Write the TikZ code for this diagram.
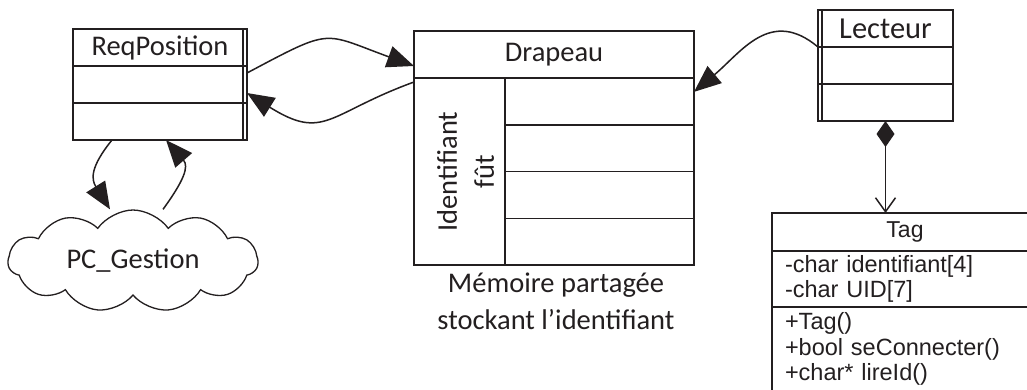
\documentclass[tikz,border=0pt]{standalone}
\usepackage{fontspec}
\setmainfont{Carlito}
\newfontfamily\arialfont{Liberation Sans}
\usepackage{tikz}
\usetikzlibrary{arrows.meta}
\usetikzlibrary{shapes}
\usetikzlibrary{positioning}
\definecolor{ink}{RGB}{35,31,32}

\begin{document}
\begin{tikzpicture}[x=1pt, y=-1pt, >={Triangle[length=27pt,width=22pt]}, line width=1.5pt, color=ink,
    compart/.style={draw, rectangle, inner sep=0pt, outer sep=0pt, font=\fontsize{28.5}{34}\selectfont},
    tagpart/.style={compart, minimum width=266pt, text width=240pt, inner xsep=13pt, align=left,
        font=\arialfont\fontsize{23.5}{25.5}\selectfont}]
        \useasboundingbox (0,0) rectangle (1027,389);
        \clip (0,0) rectangle (1027,389);

        % Class ReqPosition
        \node[compart, minimum width=174pt, minimum height=37pt] (reqtitle) at (160,47.5) {ReqPosition};
        \node[compart, minimum width=174pt, minimum height=37pt, below=0pt of reqtitle] (reqattr) {};
        \node[compart, minimum width=174pt, minimum height=37pt, below=0pt of reqattr] (reqmeth) {};
        \draw[line width=1.2pt] ([xshift=-4pt]reqtitle.north east) -- ([xshift=-4pt]reqmeth.south east);

        % Shared memory Drapeau
        \node[compart, minimum width=280pt, minimum height=47pt] (dtitle) at (554,54.5) {Drapeau};
        \node[compart, minimum width=91pt, minimum height=187pt, below right=0pt and 0pt of dtitle.south west] (idcol) {};
        \node[rotate=90, align=center, font=\fontsize{28.5}{37}\selectfont] (idtext) at ([xshift=6pt]idcol.center) {Identifiant\\fût};
        \node[compart, minimum width=189pt, minimum height=46.75pt, below right=0pt and 0pt of idcol.north east] (cell1) {};
        \node[compart, minimum width=189pt, minimum height=46.75pt, below=0pt of cell1] (cell2) {};
        \node[compart, minimum width=189pt, minimum height=46.75pt, below=0pt of cell2] (cell3) {};
        \node[compart, minimum width=189pt, minimum height=46.75pt, below=0pt of cell3] (cell4) {};
        \node[align=center, font=\fontsize{28.5}{37}\selectfont] (caption) at (556,301) {Mémoire partagée\\stockant l’identifiant};

        % Class Lecteur
        \node[compart, minimum width=135pt, minimum height=37pt, font=\fontsize{30.5}{34}\selectfont] (ltitle) at (885.5,28.5) {Lecteur};
        \node[compart, minimum width=135pt, minimum height=37pt, below=0pt of ltitle] (lattr) {};
        \node[compart, minimum width=135pt, minimum height=37pt, below=0pt of lattr] (lmeth) {};
        \draw[line width=1.2pt] ([xshift=4pt]ltitle.north west) -- ([xshift=4pt]lmeth.south west);

        % Class Tag
        \node[compart, minimum width=266pt, minimum height=38pt, font=\arialfont\fontsize{23}{26}\selectfont] (tagtitle) at (905,232) {Tag};
        \node[tagpart, minimum height=56pt, below=0pt of tagtitle] (tagattr) {-char identifiant[4]\\-char UID[7]};
        \node[tagpart, minimum height=84pt, below=0pt of tagattr] (tagmeth) {+Tag()\\+bool seConnecter()\\+char* lireId()};

        % Cloud
        \node[draw, cloud, cloud puffs=11, cloud puff arc=110, cloud ignores aspect, minimum width=250pt, minimum height=102pt,
            line width=1.3pt, font=\fontsize{28.5}{34}\selectfont] (pc) at (133,261) {PC\_Gestion};

        % Links
        \draw[->] ([yshift=-7pt]reqattr.north east) to[out=28, in=160, looseness=1.5] ([yshift=-11.5pt]dtitle.west);
        \draw[->] ([yshift=-4pt]idcol.north west) to[out=200, in=-32, looseness=1.4] ([yshift=-8.5pt]reqattr.east);
        \draw[->] (lattr.north west) to[out=140, in=40, looseness=1.2] ([yshift=9.5pt]cell1.east);
        \draw[->] ([xshift=-48pt]reqmeth.south) to[out=231, in=122, looseness=1.3] ([xshift=-23pt]pc.north);
        \draw[->] ([xshift=30pt]pc.north) to[out=54, in=311, looseness=1.3] ([xshift=6pt]reqmeth.south);
        \draw[{Diamond[length=26pt,width=18pt]}-{Straight Barb[length=14pt,width=20pt]}] (lmeth.south) -- (lmeth.south |- tagtitle.north);
    \end{tikzpicture}
\end{document}
